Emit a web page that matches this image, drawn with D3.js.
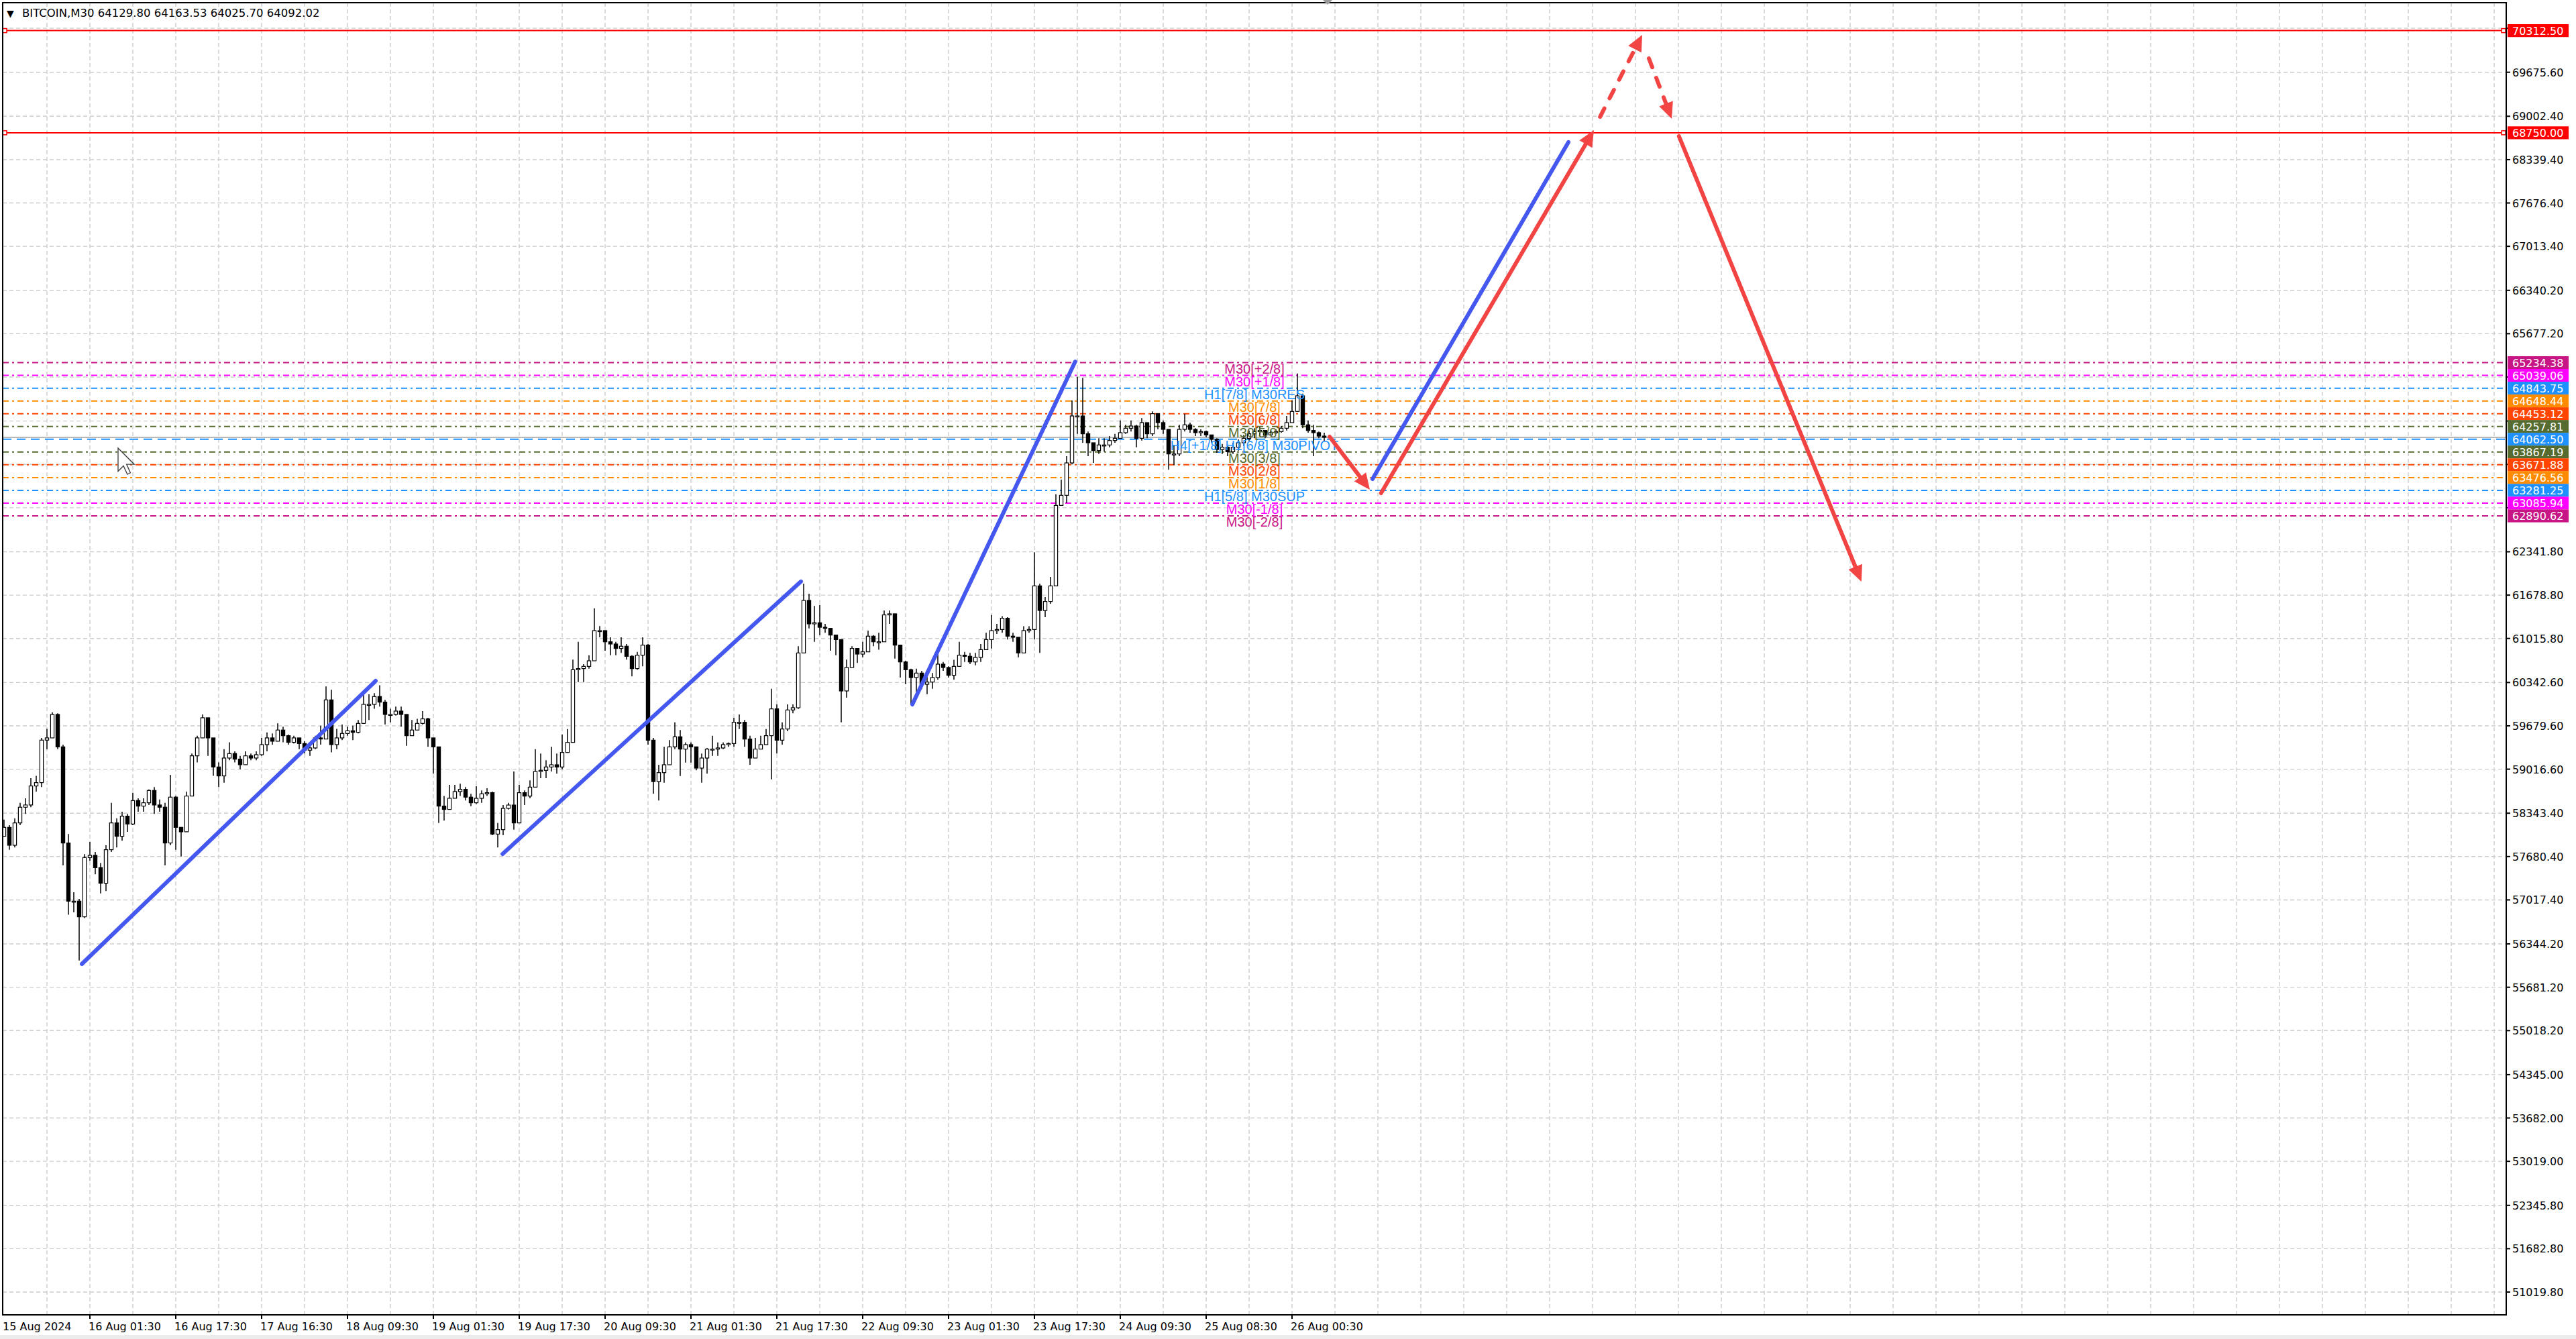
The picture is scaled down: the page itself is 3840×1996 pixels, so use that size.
<!DOCTYPE html>
<html>
<head>
<meta charset="utf-8">
<script src="https://cdn.jsdelivr.net/npm/d3@7"></script>
<style>
html, body { margin: 0; padding: 0; background: #fff; overflow: hidden; }
</style>
</head>
<body>
<script>
// BITCOIN M30 chart (drawn as 1h candles)
const firstOpen = 57990;
const closes = [
  58127, 57853, 58195, 58435, 58469, 58760, 58811, 59461, 59495, 59854,
  59358, 57888, 56998, 56998, 56759, 57665, 57699, 57511, 57272, 57785,
  58195, 57990, 58298, 58178, 58537, 58452, 58503, 58691, 58469, 58435,
  57888, 58589, 58127, 58059, 58606, 59221, 59495, 59803, 59495, 59050,
  58914, 59187, 59256, 59170, 59085, 59221, 59187, 59238, 59392, 59495,
  59444, 59615, 59529, 59427, 59495, 59409, 59307, 59341, 59495, 59478,
  60076, 59392, 59495, 59563, 59604, 59580, 59717, 60008, 60008, 60128,
  60042, 59854, 59854, 59905, 59854, 59529, 59615, 59717, 59786, 59495,
  59358, 58452, 58401, 58572, 58674, 58708, 58589, 58503, 58571, 58640,
  58657, 58024, 58092, 58417, 58468, 58195, 58657, 58605, 58742, 58982,
  58999, 59050, 59084, 59050, 59272, 59426, 60538, 60555, 60589, 60674,
  61136, 61136, 60965, 60931, 60863, 60897, 60743, 60555, 60760, 60914,
  59460, 58827, 58964, 59084, 59358, 59512, 59324, 59392, 59358, 59033,
  59187, 59324, 59324, 59341, 59392, 59409, 59734, 59734, 59477, 59187,
  59324, 59392, 59529, 59939, 59460, 59631, 59922, 59956, 60794, 61598,
  61239, 61256, 61187, 61170, 61068, 60999, 60213, 60572, 60863, 60777,
  60811, 61051, 60965, 60965, 61376, 61393, 60914, 60657, 60538, 60418,
  60486, 60315, 60349, 60418, 60623, 60572, 60452, 60589, 60760, 60743,
  60657, 60726, 60845, 60999, 61136, 61153, 61324, 61051, 61034, 60794,
  61136, 61153, 61820, 61444, 61581, 61820, 63051, 63205, 63701, 64419,
  64419, 64146, 64009, 63889, 63975, 63975, 64043, 64077, 64163, 64231,
  64265, 64077, 64317, 64146, 64454, 64317, 64214, 63838, 63838, 64214,
  64283, 64214, 64163, 64180, 64129, 64060, 63906, 63941, 63872, 63941,
  64009, 64077, 64146, 64180, 64197, 64129, 64163, 64180, 64231, 64317,
  64488, 64727, 64283, 64197, 64163, 64111, 64092
];
const highs = [
  58246, 58161, 58264, 58503, 58572, 58879, 58914, 59495, 59632, 59888,
  59871, 59392, 58024, 57135, 57033, 57716, 57905, 57750, 57580, 57853,
  58503, 58264, 58366, 58332, 58657, 58572, 58572, 58708, 58743, 58554,
  58503, 58931, 58606, 58127, 58674, 59256, 59529, 59854, 59769, 59221,
  59119, 59324, 59427, 59290, 59221, 59290, 59256, 59290, 59495, 59580,
  59563, 59717, 59666, 59546, 59529, 59495, 59444, 59409, 59529, 59683,
  60282, 60230, 59632, 59700, 59666, 59683, 59769, 60179, 60162, 60179,
  60299, 60076, 59940, 59974, 59974, 59837, 59769, 59786, 59905, 59803,
  59495, 59016, 58606, 58777, 58777, 58794, 58743, 58640, 58759, 58691,
  58725, 58674, 58195, 58468, 58503, 58982, 58776, 58691, 58845, 59324,
  59255, 59153, 59358, 59255, 59546, 59631, 60692, 60965, 60623, 60760,
  61478, 61205, 61068, 61034, 60965, 61034, 60931, 60760, 60811, 61034,
  60931, 59495, 59084, 59358, 59460, 59734, 59614, 59426, 59426, 59221,
  59255, 59341, 59529, 59426, 59426, 59426, 59802, 59854, 59768, 59529,
  59495, 59529, 59631, 60247, 60008, 59734, 60008, 60008, 60897, 61854,
  61700, 61512, 61529, 61239, 61170, 61034, 60999, 60692, 60897, 60863,
  60965, 61136, 61068, 61102, 61444, 61444, 61376, 60897, 60674, 60555,
  60555, 60520, 60452, 60486, 60794, 60657, 60589, 60691, 60965, 60811,
  60794, 60794, 60931, 61102, 61376, 61239, 61358, 61341, 61102, 61034,
  61204, 61204, 62333, 61854, 61649, 61957, 63222, 63445, 63804, 64659,
  65018, 65001, 64180, 64009, 64077, 64077, 64111, 64146, 64351, 64283,
  64351, 64283, 64385, 64317, 64488, 64454, 64351, 64214, 63975, 64283,
  64454, 64317, 64231, 64214, 64197, 64129, 64077, 63992, 63958, 64009,
  64060, 64129, 64197, 64231, 64248, 64197, 64197, 64214, 64265, 64419,
  64659, 65069, 64761, 64351, 64283, 64180, 64164
];
const lows = [
  57990, 57785, 57819, 58161, 58332, 58435, 58674, 58743, 59324, 59495,
  59324, 57546, 56792, 56827, 56092, 56741, 57614, 57409, 57118, 57152,
  57750, 57819, 57922, 58059, 58161, 58366, 58366, 58469, 58332, 58366,
  57546, 57853, 57785, 57682, 58059, 58606, 59119, 59495, 59221, 58914,
  58743, 58811, 59153, 59119, 59016, 59170, 59153, 59153, 59221, 59290,
  59392, 59461, 59427, 59392, 59409, 59324, 59256, 59221, 59324, 59392,
  59495, 59273, 59324, 59461, 59529, 59461, 59563, 59837, 59769, 59940,
  59974, 59700, 59734, 59837, 59666, 59375, 59529, 59632, 59700, 59358,
  58948, 58195, 58230, 58435, 58572, 58606, 58537, 58451, 58486, 58503,
  58606, 58007, 57819, 58007, 58400, 58092, 58229, 58468, 58571, 58862,
  58879, 58879, 58982, 58947, 59016, 59324, 59426, 60349, 60349, 60555,
  60828, 61034, 60828, 60760, 60760, 60794, 60692, 60435, 60538, 60589,
  59392, 58640, 58537, 58810, 59187, 59324, 58913, 59118, 59118, 58999,
  58810, 58947, 59221, 59221, 59324, 59358, 59358, 59631, 59358, 59084,
  59221, 59324, 59460, 58862, 59255, 59392, 59597, 59871, 59939, 60794,
  61170, 60965, 61068, 61102, 60828, 60760, 59734, 60110, 60640, 60640,
  60726, 60828, 60897, 60845, 61136, 61239, 60709, 60418, 60315, 60008,
  60179, 60247, 60161, 60247, 60384, 60520, 60418, 60384, 60589, 60657,
  60623, 60606, 60657, 60862, 60862, 61085, 61102, 60999, 60965, 60726,
  60794, 61102, 60999, 60794, 61341, 61547, 61820, 63051, 63085, 63684,
  64146, 64009, 63804, 63701, 63838, 63872, 63941, 64009, 64077, 64146,
  64180, 63941, 64043, 64077, 64111, 64214, 64146, 63599, 63667, 63804,
  64180, 64163, 64111, 64111, 64094, 64009, 63855, 63838, 63804, 63838,
  63889, 63958, 64043, 64077, 64111, 64077, 64129, 64146, 64163, 64197,
  64385, 64488, 64231, 64163, 63804, 64077, 64026
];

const headerText = "BITCOIN,M30  64129.80 64163.53 64025.70 64092.02";
const lastPrice = 64092.02;

const timeLabels = ["15 Aug 2024", "16 Aug 01:30", "16 Aug 17:30", "17 Aug 16:30", "18 Aug 09:30",
  "19 Aug 01:30", "19 Aug 17:30", "20 Aug 09:30", "21 Aug 01:30", "21 Aug 17:30", "22 Aug 09:30",
  "23 Aug 01:30", "23 Aug 17:30", "24 Aug 09:30", "25 Aug 08:30", "26 Aug 00:30"];

// price grid levels; the ones hidden behind level tags get no text
const priceTicks = [70348.8, 69675.6, 69002.4, 68339.4, 67676.4, 67013.4, 66340.2, 65677.2,
  65014.2, 64341.0, 63678.0, 63015.0, 62341.8, 61678.8, 61015.8, 60342.6, 59679.6, 59016.6,
  58343.4, 57680.4, 57017.4, 56344.2, 55681.2, 55018.2, 54345.0, 53682.0, 53019.0, 52345.8,
  51682.8, 51019.8];
const hiddenTicks = [70348.8, 65014.2, 64341.0, 63678.0, 63015.0];

const murreyLevels = [65234.38, 65039.06, 64843.75, 64648.44, 64453.12, 64257.81, 64062.50,
  63867.19, 63671.88, 63476.56, 63281.25, 63085.94, 62890.62];
const murreyTags = ["M30[+2/8]", "M30[+1/8]", "H1[7/8] M30RES", "M30[7/8]", "M30[6/8]", "M30[5/8]",
  "H4[+1/8] H1[6/8] M30PIVOT", "M30[3/8]", "M30[2/8]", "M30[1/8]", "H1[5/8] M30SUP", "M30[-1/8]", "M30[-2/8]"];

const redLevels = [70312.50, 68750.00];

// trend lines: [bar0, price0, bar1, price1]
const blueLines = [
  [14.5, 56037, 69.25, 60367],
  [92.9, 57720, 148.5, 61887],
  [169.25, 60007, 199.6, 65250],
  [255, 63455, 291.5, 68606]
];
const redArrows = [
  [247, 64101, 254.5, 63290],
  [256.6, 63239, 296.25, 68790],
  [297.4, 68995, 305.25, 70248],
  [306.5, 69887, 310.75, 68965],
  [312.1, 68697, 346.1, 61885]
];

// styles
const murreyColors = ["#C71585", "#FF00FF", "#1E90FF", "#FF8C00", "#FF4500", "#556B2F", "#1E90FF",
  "#556B2F", "#FF4500", "#FF8C00", "#1E90FF", "#FF00FF", "#C71585"];
const redDashed = [false, false, true, true, false];

const W = 3840, H = 1996;
const pL = 4, pR = 3736, pT = 4, pB = 1960;
const axisFont = "'DejaVu Sans', Verdana, sans-serif";

const x = d3.scaleLinear().domain([0, 466.25]).range([6, 3736]);
const y = d3.scaleLinear().domain([51019.8, 69675.6]).range([1926, 107.7]);

const svg = d3.select("body").append("svg")
  .attr("width", W).attr("height", H)
  .style("display", "block");

svg.append("rect").attr("width", W).attr("height", H).attr("fill", "#fff");
svg.append("rect").attr("x", 0).attr("y", 1990).attr("width", W).attr("height", 6).attr("fill", "#ececec");

svg.append("clipPath").attr("id", "plot")
  .append("rect").attr("x", pL).attr("y", pT).attr("width", pR - pL).attr("height", pB - pT);

const plot = svg.append("g").attr("clip-path", "url(#plot)");

// grid
const gridX = d3.range(8, 467, 8);
plot.append("g").selectAll("line").data(gridX).join("line")
  .attr("x1", d => x(d)).attr("x2", d => x(d))
  .attr("y1", pT).attr("y2", pB)
  .attr("stroke", "#cdcdcd").attr("stroke-width", 1.4).attr("stroke-dasharray", "6,4");
plot.append("g").selectAll("line").data(priceTicks).join("line")
  .attr("x1", pL).attr("x2", pR)
  .attr("y1", d => y(d)).attr("y2", d => y(d))
  .attr("stroke", "#cdcdcd").attr("stroke-width", 1.4).attr("stroke-dasharray", "6,4");

// murrey lines
plot.append("g").selectAll("line").data(murreyLevels).join("line")
  .attr("x1", pL).attr("x2", pR)
  .attr("y1", d => y(d)).attr("y2", d => y(d))
  .attr("stroke", (d, i) => murreyColors[i])
  .attr("stroke-width", 2)
  .attr("stroke-dasharray", (d, i) => i === 6 ? "13,8" : "9,5,3,5");

// red levels
plot.append("g").selectAll("line").data(redLevels).join("line")
  .attr("x1", pL).attr("x2", pR)
  .attr("y1", d => y(d)).attr("y2", d => y(d))
  .attr("stroke", "#ff0000").attr("stroke-width", 2);
redLevels.forEach(v => {
  [7, 3732].forEach(px => {
    plot.append("rect").attr("x", px - 3).attr("y", y(v) - 3).attr("width", 6).attr("height", 6)
      .attr("fill", "#fff").attr("stroke", "#ff0000").attr("stroke-width", 1.5);
  });
});

// bid line
plot.append("line")
  .attr("x1", pL).attr("x2", pR)
  .attr("y1", y(lastPrice)).attr("y2", y(lastPrice))
  .attr("stroke", "#b8b8b8").attr("stroke-width", 2);

// candles
const bars = closes.map((c, i) => {
  const o = i === 0 ? firstOpen : closes[i - 1];
  return { i: i, o: o, c: c, h: Math.max(highs[i], o, c), l: Math.min(lows[i], o, c) };
});
const candles = plot.append("g");
candles.selectAll("line").data(bars).join("line")
  .attr("x1", d => x(d.i)).attr("x2", d => x(d.i))
  .attr("y1", d => y(d.h)).attr("y2", d => y(d.l))
  .attr("stroke", "#000").attr("stroke-width", 1.5);
candles.selectAll("rect").data(bars).join("rect")
  .attr("x", d => x(d.i) - 2.6)
  .attr("width", 5.2)
  .attr("y", d => y(Math.max(d.o, d.c)))
  .attr("height", d => Math.max(1.5, Math.abs(y(d.o) - y(d.c))))
  .attr("fill", d => d.c >= d.o ? "#fff" : "#000")
  .attr("stroke", "#000").attr("stroke-width", 1.2);

// murrey text tags
plot.append("g").selectAll("text").data(murreyLevels).join("text")
  .attr("x", 1870).attr("y", d => y(d) + 16)
  .attr("text-anchor", "middle")
  .attr("font-family", "'Liberation Sans', Arial, sans-serif")
  .attr("font-size", 20)
  .attr("fill", (d, i) => murreyColors[i])
  .text((d, i) => murreyTags[i]);

// blue trend lines
plot.append("g").selectAll("line").data(blueLines).join("line")
  .attr("x1", d => x(d[0])).attr("y1", d => y(d[1]))
  .attr("x2", d => x(d[2])).attr("y2", d => y(d[3]))
  .attr("stroke", "#4458f0").attr("stroke-width", 6).attr("stroke-linecap", "round");

// red arrows
const arrowG = plot.append("g");
redArrows.forEach((a, k) => {
  const x0 = x(a[0]), y0 = y(a[1]), x1 = x(a[2]), y1 = y(a[3]);
  const len = Math.hypot(x1 - x0, y1 - y0);
  const ux = (x1 - x0) / len, uy = (y1 - y0) / len;
  const headL = 24, headW = 11;
  const bx = x1 - ux * headL, by = y1 - uy * headL;
  arrowG.append("line")
    .attr("x1", x0).attr("y1", y0)
    .attr("x2", x1 - ux * (headL - 4)).attr("y2", y1 - uy * (headL - 4))
    .attr("stroke", "#f34444").attr("stroke-width", 6)
    .attr("stroke-linecap", "round")
    .attr("stroke-dasharray", redDashed[k] ? "14,17" : null);
  arrowG.append("path")
    .attr("d", `M${x1},${y1}L${bx - uy * headW},${by + ux * headW}L${bx + uy * headW},${by - ux * headW}Z`)
    .attr("fill", "#f34444");
});

// mouse cursor
svg.append("path")
  .attr("transform", "translate(176,668) scale(1.15)")
  .attr("d", "M0,0L0,30L7,23L12,34L16,32L11,21L21,21Z")
  .attr("fill", "#fff").attr("stroke", "#444").attr("stroke-width", 1.2);

// frame
svg.append("rect")
  .attr("x", pL).attr("y", pT).attr("width", pR - pL).attr("height", pB - pT)
  .attr("fill", "none").attr("stroke", "#000").attr("stroke-width", 2);

// shift marker
svg.append("path").attr("d", "M1972,0L1986,0L1979,7Z").attr("fill", "#9a9a9a");

// header
svg.append("text").attr("x", 10).attr("y", 25).attr("font-size", 14)
  .attr("font-family", axisFont).attr("fill", "#000").text("▼");
svg.append("text").attr("x", 33).attr("y", 25).attr("font-size", 16.5)
  .attr("font-family", axisFont).attr("fill", "#000").text(headerText);

// price axis
const yAxis = svg.append("g");
yAxis.selectAll("line").data(priceTicks).join("line")
  .attr("x1", pR).attr("x2", pR + 6)
  .attr("y1", d => y(d)).attr("y2", d => y(d))
  .attr("stroke", "#000").attr("stroke-width", 2);
yAxis.selectAll("text").data(priceTicks.filter(d => !hiddenTicks.includes(d))).join("text")
  .attr("x", 3745).attr("y", d => y(d) + 6)
  .attr("font-family", axisFont).attr("font-size", 16).attr("fill", "#000")
  .text(d => d.toFixed(2));

// level labels on the price axis
const tagG = svg.append("g");
murreyLevels.forEach((v, i) => {
  tagG.append("rect").attr("x", 3738).attr("y", y(v) - 9.6).attr("width", 91).attr("height", 19.2)
    .attr("fill", murreyColors[i]);
  tagG.append("text").attr("x", 3745).attr("y", y(v) + 6)
    .attr("font-family", axisFont).attr("font-size", 16).attr("fill", "#fff")
    .text(v.toFixed(2));
});
redLevels.forEach(v => {
  tagG.append("rect").attr("x", 3738).attr("y", y(v) - 9.6).attr("width", 91).attr("height", 19.2)
    .attr("fill", "#ff0000");
  tagG.append("text").attr("x", 3745).attr("y", y(v) + 6)
    .attr("font-family", axisFont).attr("font-size", 16).attr("fill", "#fff")
    .text(v.toFixed(2));
});

// time axis
const xAxis = svg.append("g");
xAxis.selectAll("line").data(timeLabels.slice(1)).join("line")
  .attr("x1", (d, k) => x(16 * (k + 1))).attr("x2", (d, k) => x(16 * (k + 1)))
  .attr("y1", pB).attr("y2", pB + 6)
  .attr("stroke", "#000").attr("stroke-width", 2);
xAxis.selectAll("text").data(timeLabels).join("text")
  .attr("x", (d, k) => k === 0 ? 4 : x(16 * k) - 2)
  .attr("y", 1983)
  .attr("font-family", axisFont).attr("font-size", 16).attr("fill", "#000")
  .text(d => d);
</script>
</body>
</html>
